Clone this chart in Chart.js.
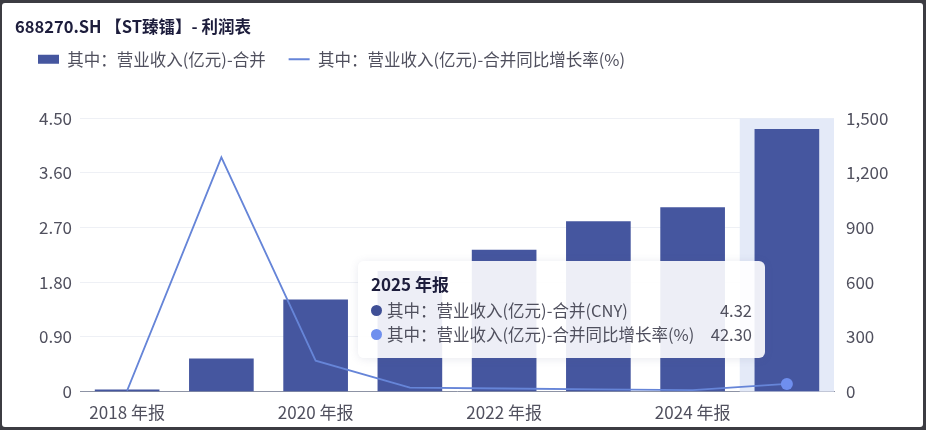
<!DOCTYPE html>
<html>
<head>
<meta charset="utf-8">
<script src="https://cdn.jsdelivr.net/npm/chart.js@4"></script>
<style>
html, body { margin: 0; width: 926px; height: 430px; overflow: hidden; background: #3c3c42; }
#panel { position: absolute; left: 2px; top: 3px; width: 921px; height: 424px; background: #fff; border-radius: 3px; }
#barChart { position: absolute; left: 0; top: 0; }
#tip { position: absolute; box-sizing: border-box; left: 358px; top: 261px; width: 407px; height: 97px; padding: 11px 13px;
  background: rgba(255,255,255,0.9); border-radius: 6px; box-shadow: 0 1px 8px rgba(90,100,140,0.14);
  font-family: "Noto Sans CJK SC", sans-serif; font-size: 16.5px; color: #50505e; white-space: nowrap; }
#tip .ttl { font-weight: 700; color: #1d1d3c; font-size: 17px; line-height: 24px; margin-bottom: 2px; }
#tip .row { display: flex; align-items: center; height: 24px; }
#tip .dot { width: 11px; height: 11px; border-radius: 50%; margin-right: 5px; }
#tip .val { margin-left: auto; }
</style>
</head>
<body>
<div id="panel"></div>
<canvas id="barChart" width="926" height="430"></canvas>
<div id="tip"></div>
<script>
var titleText = "688270.SH 【ST臻镭】- 利润表";
var categories = ["2018 年报", "2019 年报", "2020 年报", "2021 年报", "2022 年报", "2023 年报", "2024 年报", "2025 年报"];
var revenue = [0.03, 0.54, 1.51, 1.98, 2.33, 2.80, 3.03, 4.32];
var growth = [5, 1286, 170, 22, 17, 12, 8, 42.30];
var leftTicks = ["0", "0.90", "1.80", "2.70", "3.60", "4.50"];
var rightTicks = ["0", "300", "600", "900", "1,200", "1,500"];
var seriesNames = ["其中：营业收入(亿元)-合并", "其中：营业收入(亿元)-合并同比增长率(%)"];
var tipSuffix = ["(CNY)", ""];
var tipDots = ["#3f4f96", "#6f8fee"];
var legendMarks = ["rect", "line"];
var activeIndex = 7;

var FONT = '"Noto Sans CJK SC", sans-serif';
var BAR = "#45569f", LINE = "#6685d8";

// band behind the hovered category
var bandPlugin = {
    id: 'band',
    beforeDatasetsDraw: function(chart) {
        var x = chart.scales.x, a = chart.chartArea;
        var half = (x.getPixelForValue(1) - x.getPixelForValue(0)) / 2;
        var c = x.getPixelForValue(activeIndex);
        chart.ctx.save();
        chart.ctx.fillStyle = "#e4eaf8";
        chart.ctx.fillRect(c - half, a.top, half * 2, a.bottom - a.top);
        chart.ctx.restore();
    }
};

// legend sits closer to the title than its padding allows
var legendShift = {
    id: 'legendShift',
    afterLayout: function(chart) { chart.legend.top = 28; }
};

function renderTip(context) {
    var t = context.tooltip;
    var el = document.getElementById('tip');
    if (!t.dataPoints) return;
    var html = '<div class="ttl">' + t.title[0] + '</div>';
    t.dataPoints.forEach(function(p) {
        var i = p.datasetIndex;
        html += '<div class="row"><span class="dot" style="background:' + tipDots[i] + '"></span>' +
            '<span>' + seriesNames[i] + tipSuffix[i] + '</span><span class="val">' + p.raw.toFixed(2) + '</span></div>';
    });
    el.innerHTML = html;
}

var dashboardChart = new Chart(document.getElementById("barChart"), {
    type: 'bar',
    data: {
        labels: categories,
        datasets: [{
            label: seriesNames[0],
            data: revenue,
            backgroundColor: BAR,
            barThickness: 64,
            yAxisID: 'y',
            order: 2
        }, {
            type: 'line',
            label: seriesNames[1],
            data: growth,
            borderColor: LINE,
            backgroundColor: LINE,
            borderWidth: 1.8,
            tension: 0,
            pointRadius: function(c) { return c.dataIndex === activeIndex ? 6 : 0; },
            pointBackgroundColor: "#6f8fee",
            pointBorderWidth: 0,
            yAxisID: 'y1',
            order: 1
        }]
    },
    options: {
        responsive: false,
        animation: false,
        interaction: { mode: 'index', intersect: false },
        layout: { padding: { left: 15, right: 19, top: 6, bottom: 4 } },
        plugins: {
            title: {
                display: true, text: titleText, align: 'start', color: "#1d1d3c",
                font: { family: FONT, size: 16.5, weight: '600' }, padding: { top: 11, bottom: 32 }
            },
            legend: {
                align: 'start',
                labels: {
                    usePointStyle: true, pointStyleWidth: 21, boxHeight: 9, padding: 23,
                    color: "#50505e", font: { family: FONT, size: 16.5 },
                    sort: function(a, b) { return a.datasetIndex - b.datasetIndex; },
                    generateLabels: function(chart) {
                        return Chart.defaults.plugins.legend.labels.generateLabels(chart).map(function(item) {
                            var i = item.datasetIndex;
                            item.pointStyle = legendMarks[i];
                            item.strokeStyle = i ? LINE : BAR;
                            item.lineWidth = i ? 2 : 0;
                            return item;
                        });
                    }
                }
            },
            tooltip: {
                enabled: false,
                external: renderTip,
                itemSort: function(a, b) { return a.datasetIndex - b.datasetIndex; }
            }
        },
        scales: {
            x: {
                grid: { display: false },
                border: { color: "#8d93a5" },
                ticks: {
                    autoSkip: false, maxRotation: 0, color: "#50505e", font: { family: FONT, size: 17 },
                    callback: function(v, i) { return i % 2 ? '' : categories[i]; }
                }
            },
            y: {
                min: 0, max: 4.5,
                afterBuildTicks: function(s) { s.ticks = leftTicks.map(function(t) { return { value: parseFloat(t) }; }); },
                afterFit: function(s) { s.width = 65; },
                grid: { color: "#eef0f5", drawTicks: false },
                border: { display: false },
                ticks: {
                    padding: 8, color: "#50505e", font: { family: FONT, size: 17 },
                    callback: function(v, i) { return leftTicks[i]; }
                }
            },
            y1: {
                position: 'right', min: 0, max: 1500,
                afterBuildTicks: function(s) { s.ticks = rightTicks.map(function(t) { return { value: parseFloat(t.replace(',', '')) }; }); },
                afterFit: function(s) { s.width = 73; },
                grid: { display: false },
                border: { display: false },
                ticks: {
                    padding: 4, color: "#50505e", font: { family: FONT, size: 17 },
                    callback: function(v, i) { return rightTicks[i]; }
                }
            }
        }
    },
    plugins: [bandPlugin, legendShift]
});

var act = [{ datasetIndex: 0, index: activeIndex }, { datasetIndex: 1, index: activeIndex }];
dashboardChart.tooltip.setActiveElements(act, { x: 787, y: 300 });
dashboardChart.update();
</script>
</body>
</html>
